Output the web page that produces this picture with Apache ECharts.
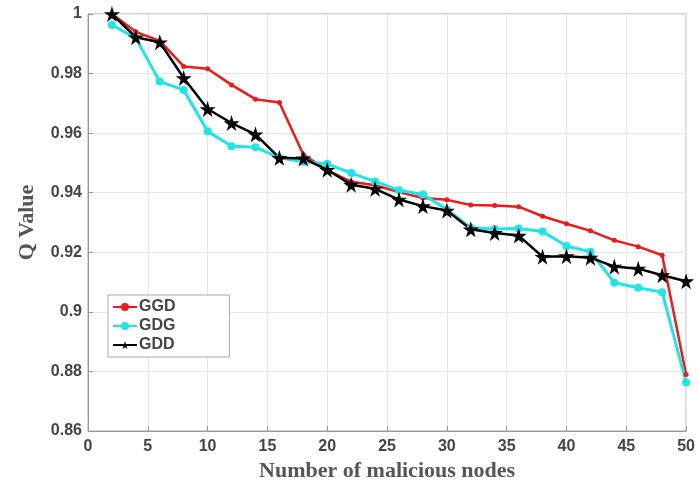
<!DOCTYPE html>
<html>
<head>
<meta charset="utf-8">
<script src="https://cdn.jsdelivr.net/npm/echarts@6/dist/echarts.min.js"></script>
<style>html,body{margin:0;padding:0;background:#fff}#c{width:698px;height:490px}</style>
</head>
<body>
<div id="c"></div>
<script>
const nodes = [2,4,6,8,10,12,14,16,18,20,22,24,26,28,30,32,34,36,38,40,42,44,46,48,50];
const ggd = [1.000,0.994,0.991,0.9824,0.9816,0.9762,0.9714,0.9703,0.9528,0.9475,0.9437,0.9425,0.9402,0.9382,0.9376,0.9359,0.9357,0.9353,0.9321,0.9296,0.9272,0.9240,0.9219,0.9190,0.8790];
const gdg = [0.9963,0.9919,0.9773,0.9745,0.9606,0.9556,0.9553,0.9517,0.9504,0.9497,0.9466,0.9438,0.9408,0.9394,0.9344,0.9282,0.9278,0.9280,0.9270,0.9221,0.9202,0.9098,0.9081,0.9066,0.8763];
const gdd = [1.000,0.9922,0.9905,0.9785,0.9681,0.9634,0.9596,0.9517,0.9515,0.9477,0.9427,0.9413,0.9377,0.9355,0.9340,0.9277,0.9265,0.9256,0.9185,0.9187,0.9182,0.9152,0.9145,0.9123,0.9103];
const seriesNames = ['GGD','GDG','GDD'];
const yTicks = [0.86,0.88,0.9,0.92,0.94,0.96,0.98,1];

const star = 'path://M50,0 L61,35 L98,35 L68,57 L79,91 L50,70 L21,91 L32,57 L2,35 L39,35 Z';
const pairs = arr => nodes.map((x,i)=>[x,arr[i]]);
const tickFont = {fontFamily:'Liberation Sans, Arial, sans-serif', fontWeight:'bold', fontSize:16, color:'#444'};

const chart = echarts.init(document.getElementById('c'));
chart.setOption({
  animation:false,
  backgroundColor:'#fff',
  grid:{left:88, right:10, top:14, bottom:59, show:true, borderColor:'#aaa', borderWidth:1},
  xAxis:{
    type:'value', min:0, max:50, interval:5,
    name:'Number of malicious nodes', nameLocation:'middle', nameGap:26,
    nameTextStyle:{fontFamily:'Liberation Serif, Times New Roman, serif', fontWeight:'bold', fontSize:22, color:'#555'},
    axisLine:{show:true, lineStyle:{color:'#999'}},
    axisTick:{show:true, inside:true, length:5, lineStyle:{color:'#999'}},
    axisLabel:Object.assign({margin:8}, tickFont),
    splitLine:{show:true, lineStyle:{color:'#e6e6e6'}}
  },
  yAxis:{
    type:'value', min:0.86, max:1, interval:0.02,
    name:'Q Value', nameLocation:'middle', nameGap:50,
    nameTextStyle:{fontFamily:'Liberation Serif, Times New Roman, serif', fontWeight:'bold', fontSize:22, color:'#555'},
    axisLine:{show:true, lineStyle:{color:'#999'}},
    axisTick:{show:true, inside:true, length:5, lineStyle:{color:'#999'}},
    axisLabel:Object.assign({margin:6, formatter:v=>String(parseFloat(v.toFixed(2)))}, tickFont),
    splitLine:{show:true, lineStyle:{color:'#e6e6e6'}}
  },
  legend:{
    left:108, top:295, orient:'vertical',
    data:seriesNames,
    itemWidth:24, itemHeight:10, itemGap:3,
    padding:[4,54,4,4],
    borderColor:'#aaa', borderWidth:1, backgroundColor:'#fff',
    textStyle:{fontFamily:'Liberation Sans, Arial, sans-serif', fontWeight:'bold', fontSize:16, color:'#444', padding:[0,0,0,-3]}
  },
  series:[
    {name:seriesNames[0], type:'line', data:pairs(ggd), symbol:'circle', symbolSize:5,
     lineStyle:{color:'#f01818', width:2.5}, itemStyle:{color:'#f01818'}},
    {name:seriesNames[1], type:'line', data:pairs(gdg), symbol:'circle', symbolSize:8,
     lineStyle:{color:'#1fe6e6', width:3}, itemStyle:{color:'#1fe6e6'}},
    {name:seriesNames[2], type:'line', data:pairs(gdd), symbol:star, symbolSize:16,
     lineStyle:{color:'#000', width:2.5}, itemStyle:{color:'#000'}}
  ]
});
</script>
</body>
</html>
